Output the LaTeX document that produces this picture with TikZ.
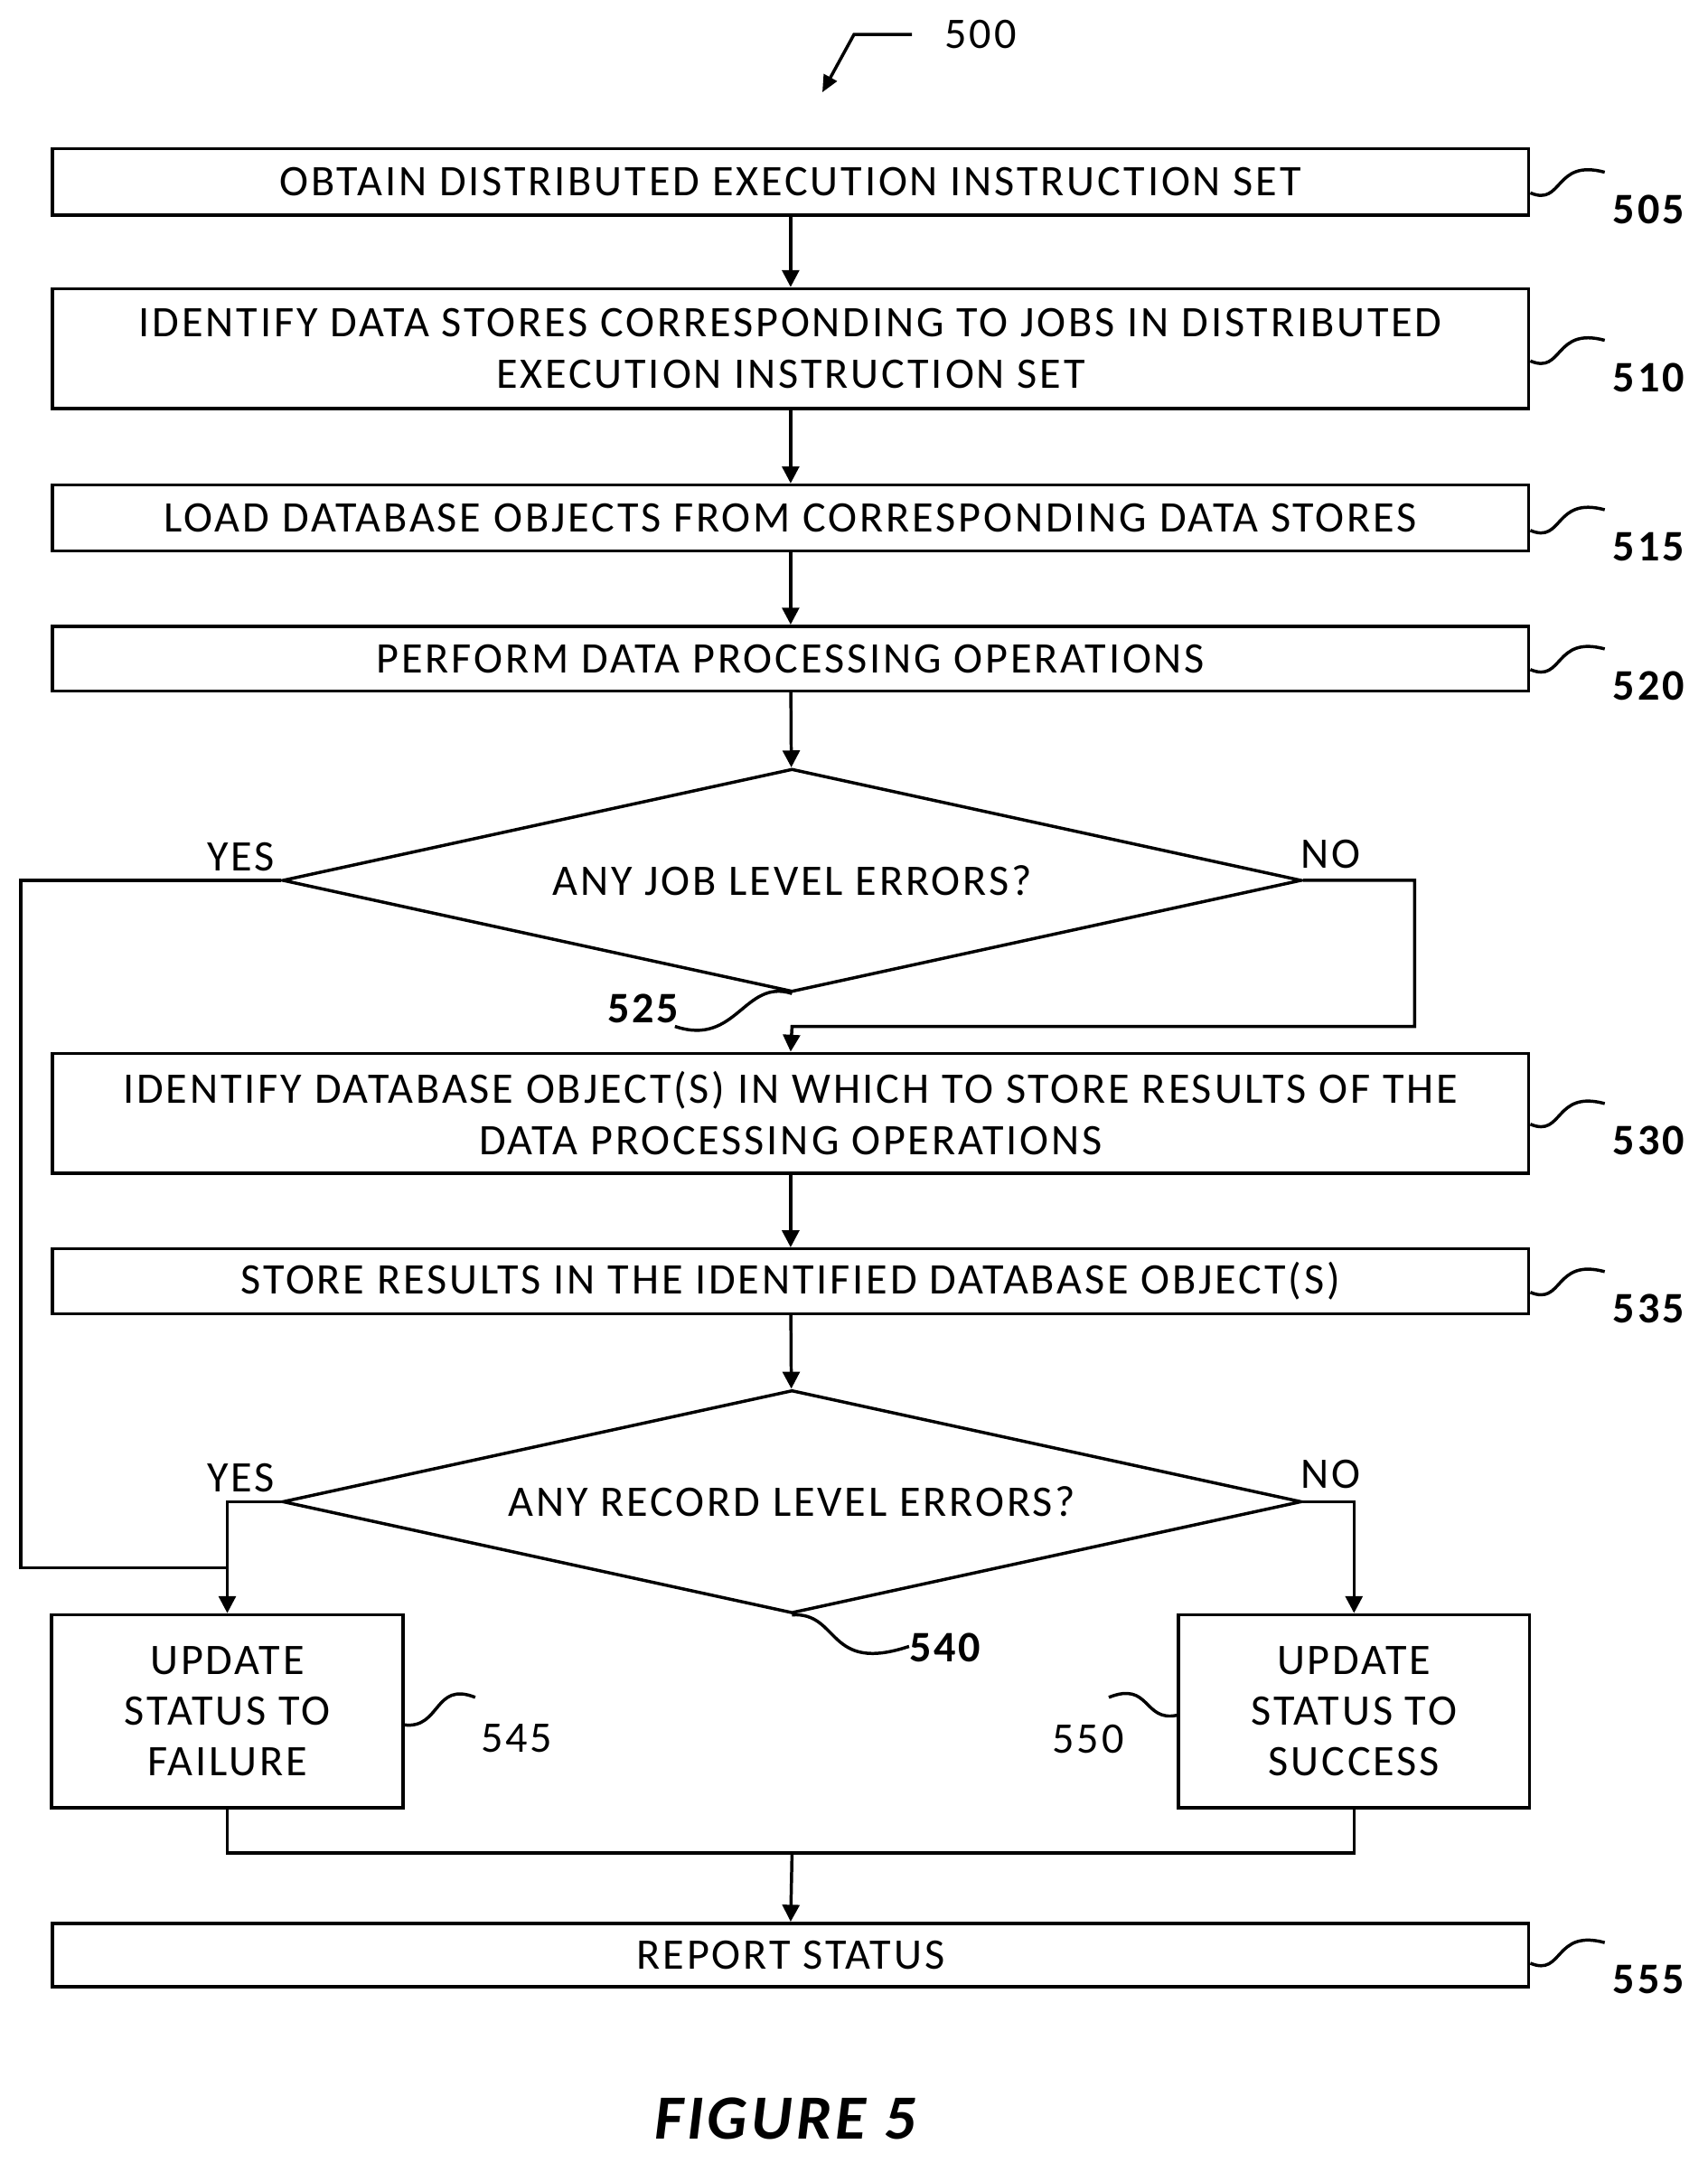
\documentclass[tikz,border=0pt]{standalone}
\usepackage{fontspec}
\setmainfont{Carlito}[LetterSpace=6]
\usetikzlibrary{shapes.geometric,arrows.meta}
\begin{document}
\begin{tikzpicture}[x=0.02cm,y=-0.02cm,
  box/.style={draw,line width=1.3pt,rectangle,inner sep=0pt,align=center,font=\fontsize{18}{21}\selectfont},
  dec/.style={draw,line width=1.3pt,diamond,inner sep=0pt,shape aspect=4.57,minimum width=14.8cm,minimum height=3.24cm,font=\fontsize{18}{21}\selectfont},
  flow/.style={line width=1.3pt,-{Triangle[length=7pt,width=7pt]}},
  wire/.style={line width=1.3pt},
  lbl/.style={font=\fontsize{18}{20}\selectfont}]
  \useasboundingbox (0,0) rectangle (1240,1570);
  % steps
  \node[box,minimum width=21.44cm,minimum height=0.96cm] (obtain) at (574,132) {OBTAIN DISTRIBUTED EXECUTION INSTRUCTION SET};
  \node[box,minimum width=21.44cm,minimum height=1.74cm] (ident) at (574,253) {IDENTIFY DATA STORES CORRESPONDING TO JOBS IN DISTRIBUTED\\EXECUTION INSTRUCTION SET};
  \node[box,minimum width=21.44cm,minimum height=0.96cm] (load) at (574,376) {LOAD DATABASE OBJECTS FROM CORRESPONDING DATA STORES};
  \node[box,minimum width=21.44cm,minimum height=0.94cm] (perform) at (574,478) {PERFORM DATA PROCESSING OPERATIONS};
  \node[dec] (joberr) at (575,639) {ANY JOB LEVEL ERRORS?};
  \node[box,minimum width=21.44cm,minimum height=1.74cm] (target) at (574,808) {IDENTIFY DATABASE OBJECT(S) IN WHICH TO STORE RESULTS OF THE\\DATA PROCESSING OPERATIONS};
  \node[box,minimum width=21.44cm,minimum height=0.94cm] (store) at (574,930) {STORE RESULTS IN THE IDENTIFIED DATABASE OBJECT(S)};
  \node[dec] (recerr) at (575,1090) {ANY RECORD LEVEL ERRORS?};
  \node[box,minimum width=5.1cm,minimum height=2.8cm] (fail) at (165,1242) {UPDATE\\STATUS TO\\FAILURE};
  \node[box,minimum width=5.1cm,minimum height=2.8cm] (succ) at (983,1242) {UPDATE\\STATUS TO\\SUCCESS};
  \node[box,minimum width=21.44cm,minimum height=0.92cm] (report) at (574,1419) {REPORT STATUS};
  % connectors
  \draw[flow] (obtain) -- (ident);
  \draw[flow] (ident) -- (load);
  \draw[flow] (load) -- (perform);
  \draw[flow] (perform) -- (joberr);
  \draw[flow] (joberr.east) -- (1027,639) -- (1027,745) -- (575,745) -- (target.north);
  \draw[flow] (target) -- (store);
  \draw[flow] (store) -- (recerr);
  \draw[wire] (joberr.west) -- (15,639) -- (15,1138) -- (165,1138);
  \draw[flow] (recerr.west) -- (165,1090) -- (fail.north);
  \draw[flow] (recerr.east) -- (983,1090) -- (succ.north);
  \draw[wire] (fail.south) -- (165,1345) -- (983,1345) -- (succ.south);
  \draw[flow] (575,1345) -- (report.north);
  % yes / no
  \node[lbl] (y1) at (175,622) {YES};
  \node[lbl] (n1) at (966,620) {NO};
  \node[lbl] (y2) at (175,1073) {YES};
  \node[lbl] (n2) at (966,1070) {NO};
  % reference numerals
  \node[lbl] (r500) at (712,25) {500};
  \draw[line width=1.3pt,-{Triangle[length=7pt,width=6pt]}] (662,25) -- (620,25) -- (597,67);
  \foreach \nm/\y/\num in {obtain/140/505,ident/262/510,load/385/515,perform/486/520,target/816/530,store/938/535,report/1425/555}{
    \draw[wire] (\nm.east |- 0,\y) .. controls (1135,\y+10) and (1128,\y-25) .. (1165,\y-15);
    \node[lbl,font=\fontsize{18}{20}\bfseries] at (1197,\y+12) {\num};
  }
  \draw[wire] (joberr.south) .. controls (540,710) and (535,760) .. (490,745);
  \node[lbl,font=\fontsize{18}{20}\bfseries] (r525) at (467,732) {525};
  \draw[wire] (recerr.south) .. controls (610,1170) and (600,1215) .. (660,1195);
  \node[lbl,font=\fontsize{18}{20}\bfseries] (r540) at (686,1196) {540};
  \draw[wire] (fail.east |- 0,1252) .. controls (320,1255) and (315,1220) .. (345,1232);
  \node[lbl] (r545) at (375,1262) {545};
  \draw[wire] (succ.west |- 0,1245) .. controls (830,1250) and (835,1220) .. (805,1232);
  \node[lbl] (r550) at (790,1262) {550};
  \node[font=\fontsize{26}{30}\bfseries\itshape] (fig) at (570,1538) {FIGURE 5};
\end{tikzpicture}
\end{document}
